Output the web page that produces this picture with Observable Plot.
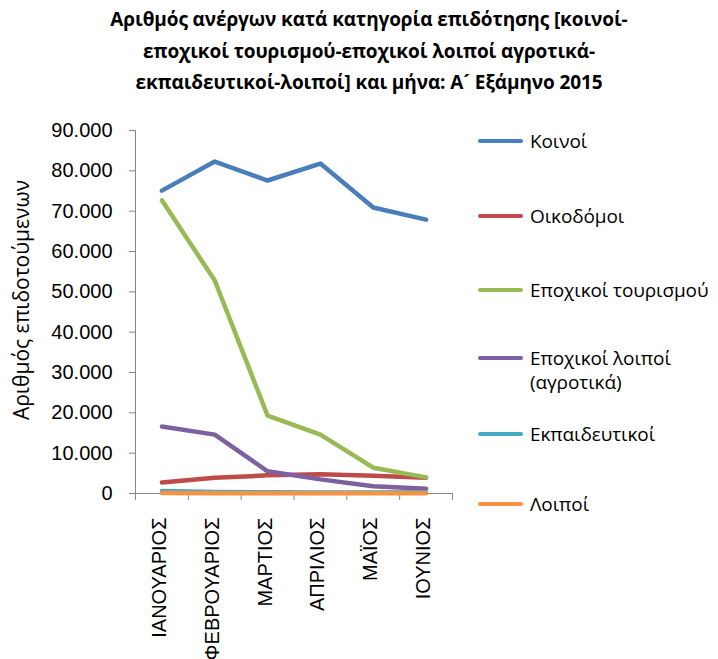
<!DOCTYPE html>
<html><head><meta charset="utf-8">
<script src="https://cdn.jsdelivr.net/npm/d3@7"></script>
<script src="https://cdn.jsdelivr.net/npm/@observablehq/plot@0.6"></script>
<style>
body{margin:0;background:#fff;}
#wrap{position:relative;width:718px;height:659px;overflow:hidden;background:#fff;}
#title{position:absolute;left:0;top:4px;width:738px;text-align:center;font-family:"Open Sans";font-weight:bold;font-size:19px;line-height:31.5px;color:#000;letter-spacing:-0.1px;}
#chart{position:absolute;left:0;top:0;}
.leg{position:absolute;left:478px;font-family:"Open Sans";font-size:19px;line-height:24px;color:#000;}
.leg .sw{position:absolute;left:0;width:45px;height:4px;border-radius:2px;top:10px;}
.leg .tx{position:absolute;left:52px;white-space:nowrap;letter-spacing:-0.1px;}
</style></head>
<body>
<div id="wrap">
  <div id="chart"></div>
  <div id="title"></div>
  <div id="legend"></div>
</div>
<script>
const titleLines = ["Αριθμός ανέργων κατά κατηγορία επιδότησης [κοινοί-",
  "εποχικοί τουρισμού-εποχικοί λοιποί αγροτικά-",
  "εκπαιδευτικοί-λοιποί] και μήνα: Α\u00B4 Εξάμηνο 2015"];
const months = ["ΙΑΝΟΥΑΡΙΟΣ","ΦΕΒΡΟΥΑΡΙΟΣ","ΜΑΡΤΙΟΣ","ΑΠΡΙΛΙΟΣ","ΜΑΪΟΣ","ΙΟΥΝΙΟΣ"];
const seriesNames = ["Κοινοί","Οικοδόμοι","Εποχικοί τουρισμού","Εποχικοί λοιποί (αγροτικά)","Εκπαιδευτικοί","Λοιποί"];
const seriesColors = ["#4A7EBB","#BE4B48","#98B954","#7D60A0","#46AAC5","#F69240"];
const koinoi = [75100, 82300, 77600, 81800, 70900, 67900];
const oikodomoi = [2700, 3900, 4500, 4800, 4400, 3900];
const tourismou = [72700, 52800, 19300, 14600, 6400, 4000];
const loipoiAgrotika = [16600, 14600, 5500, 3500, 1800, 1200];
const ekpaideutikoi = [600, 400, 300, 250, 250, 300];
const loipoi = [100, 80, 60, 60, 60, 80];
const yTicks = [0,10000,20000,30000,40000,50000,60000,70000,80000,90000];
const yLabel = "Αριθμός επιδοτούμενων";

const allValues = [koinoi, oikodomoi, tourismou, loipoiAgrotika, ekpaideutikoi, loipoi];
const data = [];
seriesNames.forEach((s, si) => allValues[si].forEach((v, i) => data.push({series: s, idx: i + 0.5, value: v})));
const bounds = d3.range(months.length + 1);
const fmt = d => d === 0 ? "0" : d3.format(",")(d).replace(/,/g, ".");

document.getElementById("title").innerHTML = titleLines.join("<br>");

const chart = Plot.plot({
  width: 718, height: 659,
  marginLeft: 135, marginRight: 266, marginTop: 130, marginBottom: 166,
  style: {background: "transparent"},
  x: {type: "linear", domain: [0, months.length], axis: null},
  y: {domain: [0, 90000], axis: null},
  color: {domain: seriesNames, range: seriesColors},
  marks: [
    Plot.ruleX([0], {stroke: "#868686", strokeWidth: 1}),
    Plot.ruleY([0], {stroke: "#868686", strokeWidth: 1}),
    Plot.axisY({ticks: yTicks, tickSize: 6, tickPadding: 17, tickFormat: fmt, stroke: "#868686", fill: "#000",
      fontSize: 20, fontFamily: "Liberation Sans", label: null}),
    Plot.axisX({ticks: bounds, tickSize: 7, tickFormat: () => "", stroke: "#868686", label: null}),
    Plot.text(months, {x: (d, i) => i + 0.5, frameAnchor: "bottom", rotate: -90, textAnchor: "end",
      dy: 24, dx: 4, fontSize: 20, fontFamily: "Liberation Sans", fill: "#000"}),
    Plot.text([yLabel], {frameAnchor: "left", textAnchor: "middle", rotate: -90, dx: -113, dy: -12, fontSize: 21,
      fontFamily: "Open Sans", fill: "#000"}),
    Plot.line(data, {x: "idx", y: "value", z: "series", stroke: "series", strokeWidth: 4.5,
      strokeLinejoin: "round", strokeLinecap: "round"})
  ]
});
document.getElementById("chart").appendChild(chart);

const legTops = [129, 204, 278, 346, 422, 492];
const legHtml = seriesNames.map((s, i) => {
  const txt = s === "Εποχικοί λοιποί (αγροτικά)" ? "Εποχικοί λοιποί<br>(αγροτικά)" : s;
  return `<div class="leg" style="top:${legTops[i]}px"><div class="sw" style="background:${seriesColors[i]}"></div><div class="tx">${txt}</div></div>`;
}).join("");
document.getElementById("legend").innerHTML = legHtml;
</script>
</body></html>
